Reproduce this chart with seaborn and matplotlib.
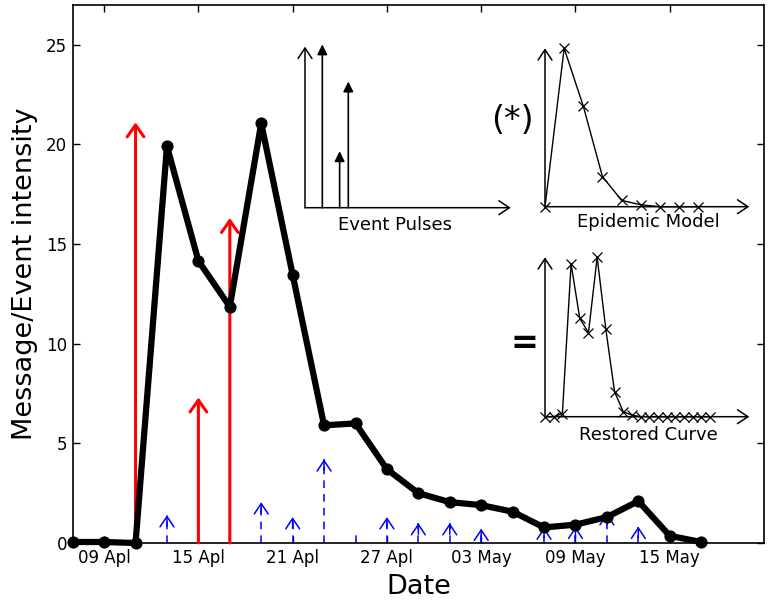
import numpy as np
import pandas as pd
import seaborn as sns
import matplotlib.pyplot as plt

# main series: message intensity every two days
start = pd.Timestamp('2010-04-07')
end = pd.Timestamp('2010-05-21')
msg_dates = pd.date_range(start, periods=21, freq='2D')
msg_values = [0.05, 0.05, 0.0, 19.9, 14.15, 11.85, 21.05, 13.45, 5.9, 6.0, 3.7,
              2.5, 2.05, 1.9, 1.57, 0.78, 0.92, 1.3, 2.1, 0.36, 0.05]

# big event pulses (red) and small events (blue)
red_dates = pd.to_datetime(['2010-04-11', '2010-04-15', '2010-04-17'])
red_values = [21.1, 7.3, 16.3]

blue_dates = pd.to_datetime(['2010-04-13', '2010-04-19', '2010-04-21', '2010-04-23',
                             '2010-04-25', '2010-04-27', '2010-04-29', '2010-05-01',
                             '2010-05-03', '2010-05-07', '2010-05-09', '2010-05-11',
                             '2010-05-13'])
blue_values = [1.4, 2.05, 1.3, 4.2, 0.4, 1.3, 1.0, 1.0, 0.72, 0.78, 0.82, 1.5, 0.82]

tick_dates = pd.to_datetime(['2010-04-09', '2010-04-15', '2010-04-21', '2010-04-27',
                             '2010-05-03', '2010-05-09', '2010-05-15'])
tick_labels = ['09 Apl', '15 Apl', '21 Apl', '27 Apl', '03 May', '09 May', '15 May']

# insets
epidemic_values = [0.0, 1.0, 0.635, 0.19, 0.04, 0.012, 0.0, 0.0, 0.0]
restored_values = [0.0, 0.0, 0.02, 0.958, 0.617, 0.527, 1.0, 0.548, 0.157, 0.031,
                   0.01, 0.0, 0.0, 0.0, 0.0, 0.0, 0.0, 0.0, 0.0, 0.0]

sns.set_theme(style='ticks')
plt.rcParams['font.family'] = ['DejaVu Sans']
plt.rcParams['xtick.direction'] = 'in'
plt.rcParams['ytick.direction'] = 'in'
for k in ['text.color', 'axes.labelcolor', 'xtick.color', 'ytick.color', 'axes.edgecolor']:
    plt.rcParams[k] = 'black'

W, H = 769, 603
fig = plt.figure(figsize=(W / 100, H / 100), dpi=100)


def px_axes(left, top, right, bottom):
    # axes from pixel box (top-left origin)
    return fig.add_axes([left / W, 1 - bottom / H, (right - left) / W, (bottom - top) / H])


ax = px_axes(72.7, 4.7, 764, 543)

# red event arrows
for d, v in zip(red_dates, red_values):
    ax.annotate('', xy=(d, v), xytext=(d, 0), annotation_clip=False,
                arrowprops=dict(arrowstyle='->,head_length=0.85,head_width=0.6',
                                color='red', lw=2.2, shrinkA=0, shrinkB=0,
                                mutation_scale=10))

# blue small events: dashed stem + solid head
ax.vlines(blue_dates, 0, blue_values, colors='blue', linestyles=(0, (5, 4)), lw=1.1)
for d, v in zip(blue_dates, blue_values):
    if v > 0.5:
        ax.annotate('', xy=(d, v), xytext=(0, -8), textcoords='offset points',
                    annotation_clip=False,
                    arrowprops=dict(arrowstyle='->,head_length=0.75,head_width=0.5',
                                    color='blue', lw=1.1, shrinkA=0, shrinkB=0,
                                    mutation_scale=10))

df = pd.DataFrame({'date': msg_dates, 'value': msg_values})
sns.lineplot(data=df, x='date', y='value', ax=ax, color='black', lw=4.5,
             marker='o', markersize=8, markeredgecolor='black', zorder=5, clip_on=False)

ax.set_xlim(start, end)
ax.set_ylim(0, 27)
ax.set_yticks([0, 5, 10, 15, 20, 25])
ax.set_xticks(tick_dates)
ax.set_xticklabels(tick_labels)
ax.tick_params(labelsize=12, top=True, right=True, length=5, width=1, pad=4)
ax.set_xlabel('Date', fontsize=19.5, labelpad=5)
ax.set_ylabel('Message/Event intensity', fontsize=19.5, labelpad=6)
for s in ax.spines.values():
    s.set_linewidth(1.2)


def arrow_frame(a):
    a.set_axis_off()
    kw = dict(arrowstyle='->,head_length=0.75,head_width=0.5', color='black', lw=1.1,
              shrinkA=0, shrinkB=0, mutation_scale=10)
    a.annotate('', xy=(1, 0), xytext=(0, 0), xycoords='axes fraction', arrowprops=kw)
    a.annotate('', xy=(0, 1), xytext=(0, 0), xycoords='axes fraction', arrowprops=kw)


# inset 1: event pulses
ax1 = px_axes(305, 46.7, 510.7, 207.7)
arrow_frame(ax1)
pulse_days = (red_dates - start).days
for d, v in zip(pulse_days, red_values):
    ax1.annotate('', xy=(d, v), xytext=(d, 0), annotation_clip=False,
                 arrowprops=dict(arrowstyle='-|>,head_length=0.6,head_width=0.3',
                                 color='black', lw=1.2, shrinkA=0, shrinkB=0,
                                 mutation_scale=10))
ax1.set_xlim(0, 47.5)
ax1.set_ylim(0, 20.8)
fig.text(395 / W, 1 - 225 / H, 'Event Pulses', fontsize=13, ha='center', va='center')

# inset 2: epidemic model
ax2 = px_axes(545, 48.3, 749.3, 206.7)
arrow_frame(ax2)
sns.lineplot(x=np.arange(len(epidemic_values)), y=epidemic_values, ax=ax2,
             color='black', lw=1, marker='x', markersize=7.5, markeredgewidth=0.9,
             markeredgecolor='black', clip_on=False)
ax2.set_xlim(0, 10.67)
ax2.set_ylim(0, 1)
fig.text(648 / W, 1 - 222 / H, 'Epidemic Model', fontsize=13, ha='center', va='center')

# inset 3: restored curve
ax3 = px_axes(545, 257.3, 749.3, 416.7)
arrow_frame(ax3)
sns.lineplot(x=np.arange(len(restored_values)), y=restored_values, ax=ax3,
             color='black', lw=1, marker='x', markersize=7.5, markeredgewidth=0.9,
             markeredgecolor='black', clip_on=False)
ax3.set_xlim(0, 23.5)
ax3.set_ylim(0, 1)
fig.text(648 / W, 1 - 435 / H, 'Restored Curve', fontsize=13, ha='center', va='center')

fig.text(512.5 / W, 1 - 121 / H, '(*)', fontsize=24, ha='center', va='center')
fig.text(524 / W, 1 - 343 / H, '=', fontsize=24, fontweight='bold', ha='center', va='center')

fig.savefig('out.png', dpi=100)
